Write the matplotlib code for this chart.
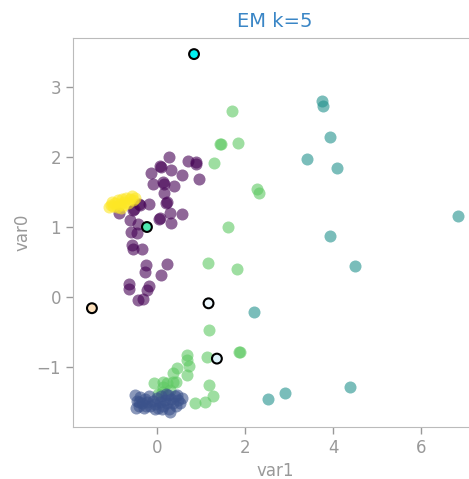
import numpy as np
import matplotlib
matplotlib.use('Agg')
import matplotlib.pyplot as plt

# cluster members (var1, var0)
purple_x = [0.27, 0.06, 0.08, 0.70, 0.89, 0.89, -0.14, 0.32, 0.57, 0.95, -0.10, 0.13, 0.15,
            0.38, 0.16, 0.22, 0.20, -0.19, -0.40, -0.38, -0.54, -0.52, -0.86, -0.61, 0.05, 0.07,
            0.30, 0.56, 0.32, -0.43, -0.60, -0.46, -0.58, -0.55, -0.35, -0.26, -0.27, 0.23,
            0.08, -0.64, -0.63, -0.19, -0.23, -0.43, -0.33]
purple_y = [2.00, 1.87, 1.86, 1.95, 1.93, 1.90, 1.77, 1.82, 1.74, 1.68, 1.61, 1.64, 1.62,
            1.59, 1.48, 1.36, 1.34, 1.33, 1.33, 1.31, 1.24, 1.26, 1.20, 1.10, 1.11, 1.13,
            1.20, 1.18, 1.06, 1.05, 0.93, 0.91, 0.74, 0.68, 0.68, 0.46, 0.36, 0.47,
            0.31, 0.19, 0.11, 0.16, 0.10, -0.04, -0.03]

blue_x = [-0.50, -0.45, -0.42, -0.38, -0.35, -0.30, -0.28, -0.22, -0.18, -0.15, -0.10, -0.05,
          0.00, 0.03, 0.07, 0.10, 0.14, 0.18, 0.22, 0.25, 0.28, 0.32, 0.36, 0.40, 0.44, 0.48,
          0.52, 0.56, -0.48, 0.20, -0.05, 0.30, -0.40, 0.12, 0.45, -0.25]
blue_y = [-1.40, -1.48, -1.55, -1.43, -1.52, -1.58, -1.45, -1.50, -1.42, -1.56, -1.48, -1.53,
          -1.44, -1.58, -1.50, -1.42, -1.55, -1.47, -1.52, -1.40, -1.60, -1.45, -1.52, -1.42,
          -1.55, -1.47, -1.52, -1.44, -1.58, -1.38, -1.60, -1.64, -1.50, -1.60, -1.40, -1.55]

teal_x = [3.75, 3.78, 3.92, 3.40, 4.08, 6.83, 3.93, 4.49, 2.20, 2.91, 2.52, 4.39]
teal_y = [2.80, 2.73, 2.29, 1.97, 1.85, 1.16, 0.87, 0.45, -0.21, -1.37, -1.46, -1.28]

green_x = [1.71, 1.43, 1.45, 1.84, 1.30, 2.28, 2.31, 1.62, 1.16, 1.81, 1.18, 1.87, 1.89,
           1.13, 1.17, 1.26, 1.08, 0.86, 0.67, 0.69, 0.72, 0.67, 0.46, 0.37, 0.43, 0.13,
           0.14, 0.22, -0.08, 0.37, 0.11, 0.03, 0.30]
green_y = [2.66, 2.19, 2.18, 2.20, 1.91, 1.54, 1.48, 1.00, 0.49, 0.40, -0.47, -0.79, -0.78,
           -0.86, -1.26, -1.42, -1.50, -1.51, -0.83, -0.90, -0.99, -1.12, -1.02, -1.09, -1.21,
           -1.22, -1.28, -1.23, -1.23, -1.21, -1.35, -1.38, -1.33]

yellow_x = [-1.10, -1.05, -1.00, -0.95, -0.92, -0.88, -0.85, -0.80, -0.78, -0.74, -0.70,
            -0.66, -0.62, -0.58, -0.54, -0.50, -1.02, -0.82]
yellow_y = [1.28, 1.32, 1.30, 1.35, 1.29, 1.38, 1.33, 1.40, 1.31, 1.36, 1.42,
            1.34, 1.40, 1.44, 1.38, 1.42, 1.36, 1.27]

# component means
cent_x = [0.84, -0.23, -1.48, 1.17, 1.36]
cent_y = [3.47, 1.00, -0.16, -0.09, -0.88]
cent_colors = ['#00f0f0', '#4ee8b0', '#fde0bc', '#eef8fd', '#def4fb']

# drawn in this order so the blue blob sits over the green one
clusters = [
    (green_x, green_y, '#5ec962'),
    (teal_x, teal_y, '#21918c'),
    (blue_x, blue_y, '#3b528b'),
    (purple_x, purple_y, '#440154'),
    (yellow_x, yellow_y, '#fde725'),
]

fig = plt.figure(figsize=(4.69, 4.79), dpi=100)
ax = fig.add_axes([73 / 469, 52 / 479, 404 / 469, 389 / 479])

for xs, ys, c in clusters:
    ax.scatter(xs, ys, s=75, color=c, alpha=0.6, linewidths=0)

ax.scatter(cent_x, cent_y, s=50, c=cent_colors, edgecolors='black', linewidths=1.5, zorder=3)

ax.set_xlim(-1.91, 7.27)
ax.set_ylim(-1.857, 3.70)
ax.set_xticks([0, 2, 4, 6])
ax.set_yticks([-1, 0, 1, 2, 3])
ax.set_yticklabels(['\u22121', '0', '1', '2', '3'])

grey = '#999999'
for side in ['left', 'bottom', 'top']:
    ax.spines[side].set_color('#bbbbbb')
ax.spines['right'].set_visible(False)
ax.tick_params(colors=grey, labelsize=12, length=5, width=1)
ax.set_xlabel('var1', color=grey, fontsize=12)
ax.set_ylabel('var0', color=grey, fontsize=12)
ax.set_title('EM k=5', color='#3a86c6', fontsize=14, pad=8)

fig.savefig('out.png', dpi=100)
